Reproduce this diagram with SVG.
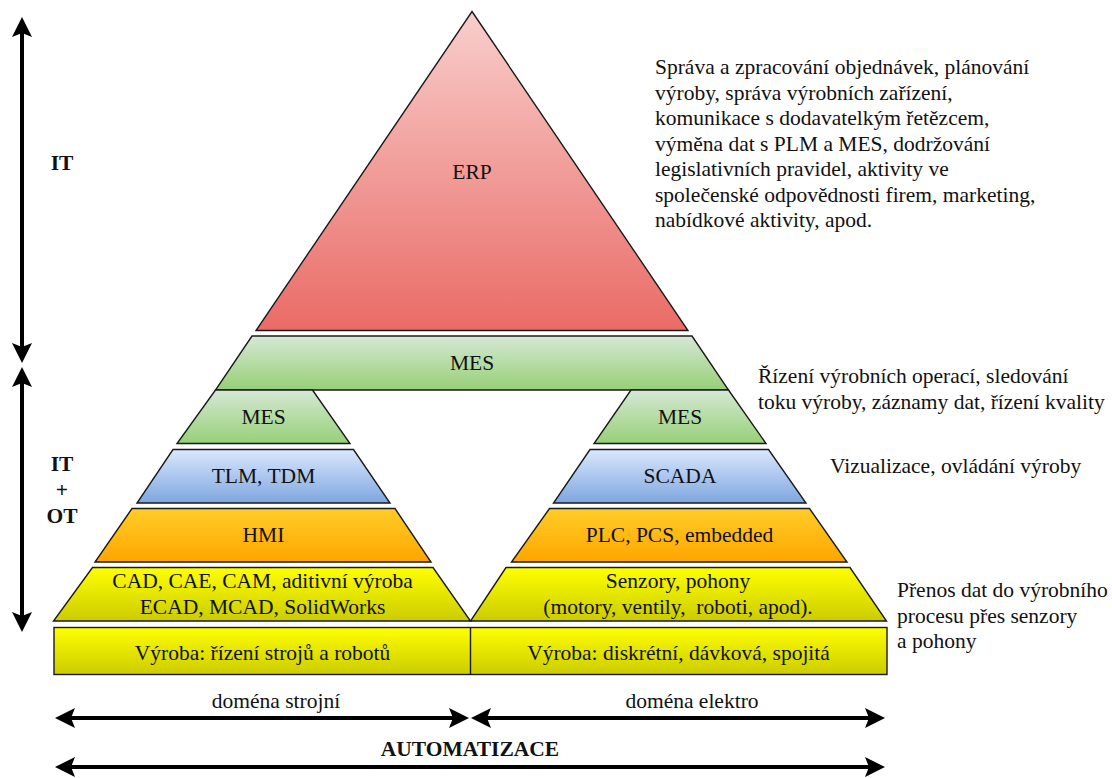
<svg xmlns="http://www.w3.org/2000/svg" width="1112" height="778" viewBox="0 0 1112 778">
  <style>
    .lvl { stroke: #1a1a1a; stroke-width: 1.4; stroke-linejoin: miter; }
    text { font-family: 'Liberation Serif', 'DejaVu Serif', serif; font-size: 21.5px; fill: #111; }
    .c { text-anchor: middle; }
    .b { font-weight: bold; }
    .arr { stroke: #000; stroke-width: 4; fill: none; marker-start: url(#head); marker-end: url(#head); }
  </style>
  <defs>
    <linearGradient id="gRed" x1="0" y1="0" x2="0" y2="1">
      <stop offset="0" stop-color="#f8cecc"/>
      <stop offset="1" stop-color="#ea6b66"/>
    </linearGradient>
    <linearGradient id="gGreen" x1="0" y1="0" x2="0" y2="1">
      <stop offset="0" stop-color="#d5e8d4"/>
      <stop offset="1" stop-color="#97d077"/>
    </linearGradient>
    <linearGradient id="gBlue" x1="0" y1="0" x2="0" y2="1">
      <stop offset="0" stop-color="#dae8fc"/>
      <stop offset="1" stop-color="#7ea6e0"/>
    </linearGradient>
    <linearGradient id="gOrange" x1="0" y1="0" x2="0" y2="1">
      <stop offset="0" stop-color="#ffcd28"/>
      <stop offset="1" stop-color="#ffa500"/>
    </linearGradient>
    <linearGradient id="gYellow" x1="0" y1="0" x2="0" y2="1">
      <stop offset="0" stop-color="#ffff00"/>
      <stop offset="1" stop-color="#cccc00"/>
    </linearGradient>
    <marker id="head" viewBox="0 0 20 20" refX="6" refY="10" markerWidth="20" markerHeight="20" markerUnits="userSpaceOnUse" orient="auto-start-reverse">
      <path d="M0,0 L20,10 L0,20 L4,10 Z" fill="#000"/>
    </marker>
  </defs>

  <!-- pyramid levels -->
  <g id="erp">
    <polygon class="lvl" fill="url(#gRed)" points="472,11.5 688,330.5 256,330.5"/>
    <text class="c" x="472" y="179">ERP</text>
  </g>
  <g id="mes-top">
    <polygon class="lvl" fill="url(#gGreen)" points="252,336 692,336 728.5,390 215.5,390"/>
    <text class="c" x="472" y="370">MES</text>
  </g>
  <g id="mes-left">
    <polygon class="lvl" fill="url(#gGreen)" points="215.5,390 312.5,390 350,443.5 177,443.5"/>
    <text class="c" x="263.5" y="424">MES</text>
  </g>
  <g id="mes-right">
    <polygon class="lvl" fill="url(#gGreen)" points="631,390 728.5,390 766,443.5 594,443.5"/>
    <text class="c" x="680" y="424">MES</text>
  </g>
  <g id="tlm">
    <polygon class="lvl" fill="url(#gBlue)" points="173,449.5 353.5,449.5 390,503 137,503"/>
    <text class="c" x="263.5" y="483">TLM, TDM</text>
  </g>
  <g id="scada">
    <polygon class="lvl" fill="url(#gBlue)" points="590,449.5 768.5,449.5 806,503 553.5,503"/>
    <text class="c" x="680" y="483">SCADA</text>
  </g>
  <g id="hmi">
    <polygon class="lvl" fill="url(#gOrange)" points="132,508.5 395,508.5 431,562 95,562"/>
    <text class="c" x="263.5" y="542">HMI</text>
  </g>
  <g id="plc">
    <polygon class="lvl" fill="url(#gOrange)" points="549.5,508.5 809.5,508.5 847,562 511.5,562"/>
    <text class="c" x="679.5" y="542">PLC, PCS, embedded</text>
  </g>
  <g id="cad">
    <polygon class="lvl" fill="url(#gYellow)" points="92.5,567.5 433,567.5 470.5,621 53.5,621"/>
    <text class="c" x="262.5" y="588">CAD, CAE, CAM, aditivní výroba</text>
    <text class="c" x="262.5" y="614">ECAD, MCAD, SolidWorks</text>
  </g>
  <g id="sensors">
    <polygon class="lvl" fill="url(#gYellow)" points="506,567.5 850,567.5 886.5,621 470.5,621"/>
    <text class="c" x="678" y="588">Senzory, pohony</text>
    <text class="c" x="678" y="614" xml:space="preserve">(motory, ventily,  roboti, apod).</text>
  </g>
  <g id="production">
    <rect class="lvl" fill="url(#gYellow)" x="54" y="627.5" width="833" height="47"/>
    <line class="lvl" x1="470.5" y1="627.5" x2="470.5" y2="674.5"/>
    <text class="c" x="262.5" y="660">Výroba: řízení strojů a robotů</text>
    <text class="c" x="678.5" y="660">Výroba: diskrétní, dávková, spojitá</text>
  </g>

  <!-- descriptions -->
  <g id="desc-erp">
    <text x="655" y="74">Správa a zpracování objednávek, plánování</text>
    <text x="655" y="99.5">výroby, správa výrobních zařízení,</text>
    <text x="655" y="125">komunikace s dodavatelkým řetězcem,</text>
    <text x="655" y="150.5">výměna dat s PLM a MES, dodržování</text>
    <text x="655" y="176">legislativních pravidel, aktivity ve</text>
    <text x="655" y="201.5">společenské odpovědnosti firem, marketing,</text>
    <text x="655" y="227">nabídkové aktivity, apod.</text>
  </g>
  <g id="desc-mes">
    <text x="758" y="383">Řízení výrobních operací, sledování</text>
    <text x="758" y="409">toku výroby, záznamy dat, řízení kvality</text>
  </g>
  <g id="desc-scada">
    <text x="830" y="473">Vizualizace, ovládání výroby</text>
  </g>
  <g id="desc-sensors">
    <text x="897" y="597">Přenos dat do výrobního</text>
    <text x="897" y="622.5">procesu přes senzory</text>
    <text x="897" y="648">a pohony</text>
  </g>

  <!-- side and bottom labels -->
  <g id="label-it">
    <text class="c b" x="62" y="170">IT</text>
  </g>
  <g id="label-itot">
    <text class="c b" x="62" y="471">IT</text>
    <text class="c b" x="62" y="497">+</text>
    <text class="c b" x="62" y="523">OT</text>
  </g>
  <g id="label-domains">
    <text class="c" x="276" y="708">doména strojní</text>
    <text class="c" x="692" y="708">doména elektro</text>
    <text class="c b" x="470" y="756">AUTOMATIZACE</text>
  </g>

  <!-- range arrows -->
  <g id="connectors">
    <line class="arr" x1="22" y1="31" x2="22" y2="349"/>
    <line class="arr" x1="22" y1="381" x2="22" y2="618"/>
    <line class="arr" x1="69" y1="718" x2="455" y2="718"/>
    <line class="arr" x1="485" y1="718" x2="871" y2="718"/>
    <line class="arr" x1="69" y1="767" x2="871" y2="767"/>
  </g>
</svg>
